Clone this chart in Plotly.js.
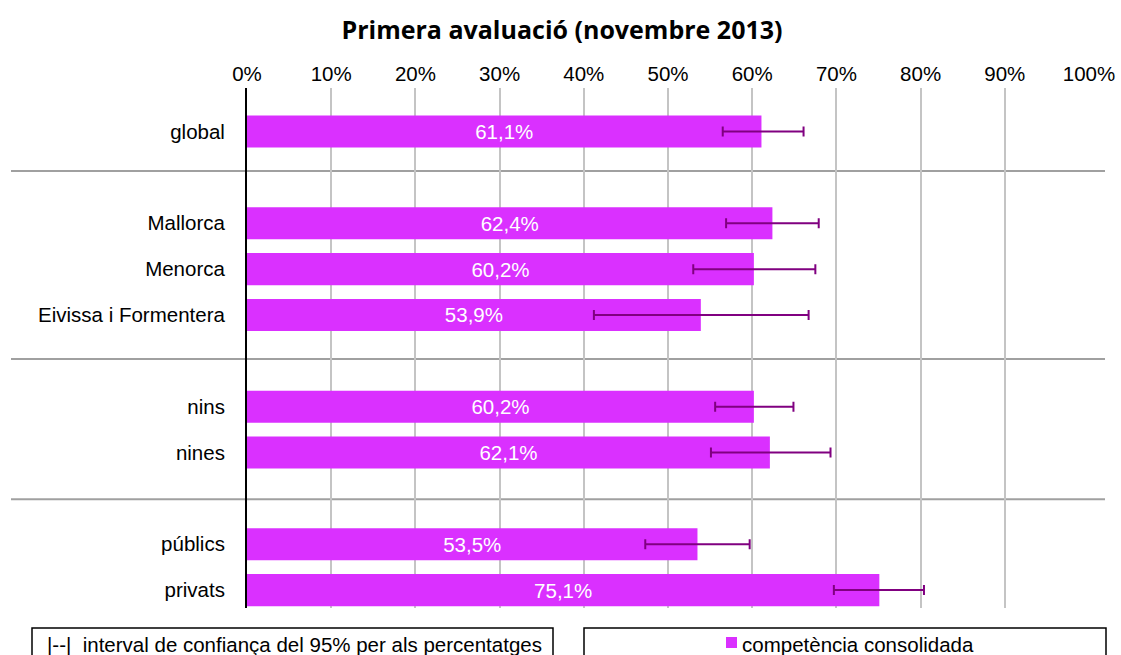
<!DOCTYPE html>
<html>
<head>
<meta charset="utf-8">
<script src="https://cdn.plot.ly/plotly-3.0.1.min.js"></script>
<style>html,body{margin:0;padding:0;background:#fff;}#chart{width:1121px;height:655px;}</style>
</head>
<body>
<div id="chart"></div>
<script>
// ---- data ----
var categories = ["global", "Mallorca", "Menorca", "Eivissa i Formentera", "nins", "nines", "públics", "privats"];
var slots = [0, 2, 3, 4, 6, 7, 9, 10];          // row positions (groups separated by a blank row)
var values = [61.1, 62.4, 60.2, 53.9, 60.2, 62.1, 53.5, 75.1];
var ciLow  = [56.5, 56.9, 53.0, 41.2, 55.6, 55.1, 47.3, 69.7];
var ciHigh = [66.1, 67.9, 67.5, 66.7, 64.9, 69.3, 59.7, 80.4];
var separators = [0.86, 4.96, 8.02];
var xTicks = [0, 10, 20, 30, 40, 50, 60, 70, 80, 90, 100];
var seriesName = "competència consolidada";
var ciLegend = "|--|  interval de confiança del 95% per als percentatges";
var chartTitle = "Primera avaluació (novembre 2013)";

var barColor = "#DA30FF";
var errColor = "#800080";
var textFont = "Liberation Sans, Arial, sans-serif";
var fs = 20.5;

var labels = values.map(function (v) { return v.toFixed(1).replace(".", ",") + "%"; });
var plus = values.map(function (v, i) { return ciHigh[i] - v; });
var minus = values.map(function (v, i) { return v - ciLow[i]; });

var trace = {
  type: "bar",
  orientation: "h",
  name: seriesName,
  x: values,
  y: slots,
  width: 0.7,
  marker: { color: barColor, line: { width: 0 } },
  text: labels,
  textposition: "inside",
  insidetextanchor: "middle",
  constraintext: "none",
  textfont: { family: textFont, size: fs, color: "#ffffff" },
  error_x: {
    type: "data", symmetric: false,
    array: plus, arrayminus: minus,
    color: errColor, thickness: 2, width: 5
  },
  hoverinfo: "none",
  showlegend: false
};

var L = 247, R = 32, T = 88, B = 47, W = 1121, H = 655;
var pw = W - L - R, ph = H - T - B;
function px(x) { return (x - L) / pw; }
function py(y) { return (H - B - y) / ph; }

var shapes = separators.map(function (s) {
  return { type: "line", xref: "paper", yref: "y", x0: px(11), x1: px(1105), y0: s, y1: s,
           line: { color: "#a0a0a0", width: 2 }, layer: "below" };
});
shapes.push({ type: "rect", xref: "paper", yref: "paper", x0: px(32), x1: px(553), y0: py(628), y1: py(670),
              line: { color: "#000", width: 1.5 }, fillcolor: "rgba(0,0,0,0)" });
shapes.push({ type: "rect", xref: "paper", yref: "paper", x0: px(584), x1: px(1106), y0: py(628), y1: py(670),
              line: { color: "#000", width: 1.5 }, fillcolor: "rgba(0,0,0,0)" });
shapes.push({ type: "rect", xref: "paper", yref: "paper", x0: px(726), x1: px(737), y0: py(637), y1: py(648),
              line: { width: 0 }, fillcolor: barColor });

var annotations = [
  { xref: "paper", yref: "paper", x: px(294), y: py(644), xanchor: "center", yanchor: "middle",
    text: ciLegend, showarrow: false, font: { family: textFont, size: fs, color: "#000" } },
  { xref: "paper", yref: "paper", x: px(740), y: py(644), xanchor: "left", yanchor: "middle",
    text: seriesName, showarrow: false, font: { family: textFont, size: fs, color: "#000" } }
];

var layout = {
  width: W, height: H,
  margin: { l: L, r: R, t: T, b: B, pad: 0 },
  paper_bgcolor: "#fff", plot_bgcolor: "#fff",
  title: { text: "<b>" + chartTitle + "</b>", x: 562 / W, xref: "container", xanchor: "center",
           y: 1 - 30 / H, yref: "container", yanchor: "middle",
           font: { family: "Open Sans, Lato, sans-serif", size: 25, color: "#000" } },
  xaxis: {
    side: "top", range: [0, 100], tickvals: xTicks, ticktext: xTicks.map(function (t) { return t + "%"; }),
    showgrid: true, gridcolor: "#c4c4c4", gridwidth: 2, zeroline: false, showline: false,
    ticks: "", ticklabelstandoff: 2,
    tickfont: { family: textFont, size: fs, color: "#000" }, fixedrange: true
  },
  yaxis: {
    range: [10.39, -0.95], tickvals: slots, ticktext: categories,
    showgrid: false, zeroline: false, showline: true, linecolor: "#000", linewidth: 2,
    ticks: "", ticklabelstandoff: 16,
    tickfont: { family: textFont, size: fs, color: "#000" }, fixedrange: true
  },
  shapes: shapes,
  annotations: annotations,
  showlegend: false
};

Plotly.newPlot("chart", [trace], layout, { displayModeBar: false, staticPlot: true });
</script>
</body>
</html>
